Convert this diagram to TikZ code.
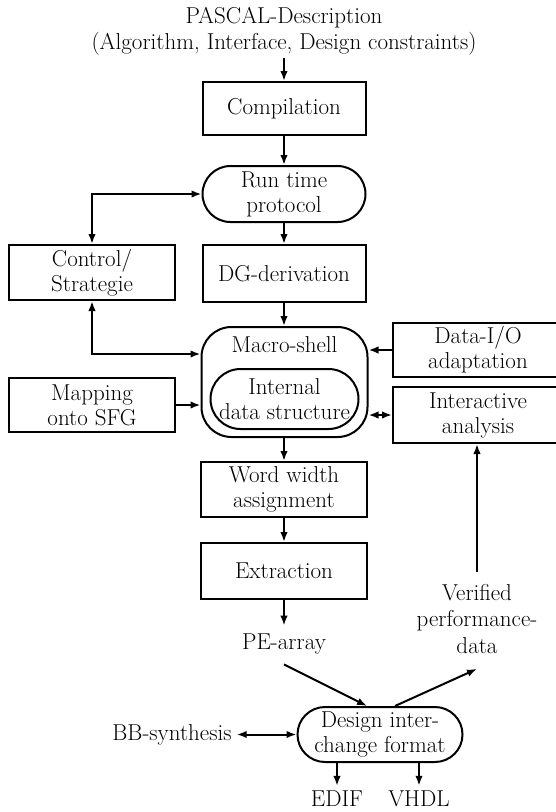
\documentclass[tikz,border=0pt]{standalone}
\usetikzlibrary{arrows.meta}
\begin{document}
\tikzset{
 every node/.style={font=\fontsize{23}{25}\selectfont, inner sep=1.5pt, align=center},
 box/.style={draw, line width=2pt, minimum width=165pt, minimum height=55pt},
 pill/.style={box, rounded corners=27.5pt},
 txt/.style={inner sep=0pt},
 conn/.style={line width=2pt, -{Latex[length=10pt,width=7.5pt]}},
 dconn/.style={line width=2pt, {Latex[length=10pt,width=7.5pt]}-{Latex[length=10pt,width=7.5pt]}},
}
\begin{tikzpicture}[x=1pt,y=-1pt]
\path[use as bounding box] (0,0) rectangle (556,812);
\clip (0,0) rectangle (556,812);
\node[txt, font=\fontsize{23}{26}\selectfont] (title) at (284,31) {PASCAL-Description\\(Algorithm, Interface, Design constraints)};
\node[box, minimum width=163pt, minimum height=53pt] (comp) at (284,108.5) {Compilation};
\node[pill, minimum width=163pt, minimum height=56pt, rounded corners=28pt] (rtp) at (284,194) {Run time\\protocol};
\node[box, minimum width=163pt, minimum height=57pt] (dg) at (284,273.5) {DG-derivation};
\node[box, minimum width=166pt, minimum height=55pt] (ctrl) at (92,272.5) {Control/\\Strategie};
\node[draw, line width=2pt, rounded corners=30pt, minimum width=166pt, minimum height=110pt] (macro) at (284.5,382) {};
\node[txt] (mlabel) at (284.5,345) {Macro-shell};
\node[pill, minimum width=148pt, minimum height=60pt, rounded corners=30pt] (ids) at (284.5,399) {Internal\\data structure};
\node[box, minimum width=166pt, minimum height=54pt] (map) at (92,405) {Mapping\\onto SFG};
\node[box, minimum width=170pt, minimum height=54pt] (dio) at (478,350) {Data-I/O\\adaptation};
\node[box, minimum width=170pt, minimum height=56pt] (ia) at (478,415) {Interactive\\analysis};
\node[box, minimum width=166pt, minimum height=55pt] (ww) at (284,489.5) {Word width\\assignment};
\node[box, minimum width=166pt, minimum height=56pt] (ext) at (284,571) {Extraction};
\node[txt] (pe) at (284,644) {PE-array};
\node[txt, font=\fontsize{23}{26.5}\selectfont] (ver) at (477,619) {Verified\\performance-\\data};
\node[pill, minimum width=165pt, minimum height=55pt] (dif) at (380,734.5) {Design inter-\\change format};
\node[txt] (bb) at (172,734.5) {BB-synthesis};
\node[txt] (edif) at (337,799) {EDIF};
\node[txt] (vhdl) at (419,799) {VHDL};

\draw[conn] ([yshift=-3pt]title.south) -- (comp.north);
\draw[conn] (comp) -- (rtp);
\draw[conn] (rtp) -- (dg);
\draw[dconn] (rtp.west) -| (ctrl.north);
\draw[dconn] (ctrl.south) |- ([yshift=28pt]macro.west);
\draw[conn] (dg.south) -- (dg.south |- macro.north);
\draw[conn] (dio.west) -- (macro.east |- dio.west);
\draw[dconn] (ia.west) -- (macro.east |- ia.west);
\draw[conn] (map.east) -- (macro.west |- map.east);
\draw[conn] (ww.north |- macro.south) -- (ww.north);
\draw[conn] (ww) -- (ext);
\draw[conn] (ext.south) -- ([yshift=8pt]pe.north);
\draw[conn] ([yshift=-10pt]pe.south) -- ([xshift=-13pt]dif.north);
\draw[conn] ([xshift=15pt]dif.north) -- ([yshift=-15pt]ver.south);
\draw[conn] ([yshift=12pt]ver.north) -- (ver.north |- ia.south);
\draw[dconn] ([xshift=5pt]bb.east) -- (dif.west);
\draw[conn] (edif.north |- dif.south) -- ([yshift=5pt]edif.north);
\draw[conn] (vhdl.north |- dif.south) -- ([yshift=5pt]vhdl.north);
\end{tikzpicture}
\end{document}
